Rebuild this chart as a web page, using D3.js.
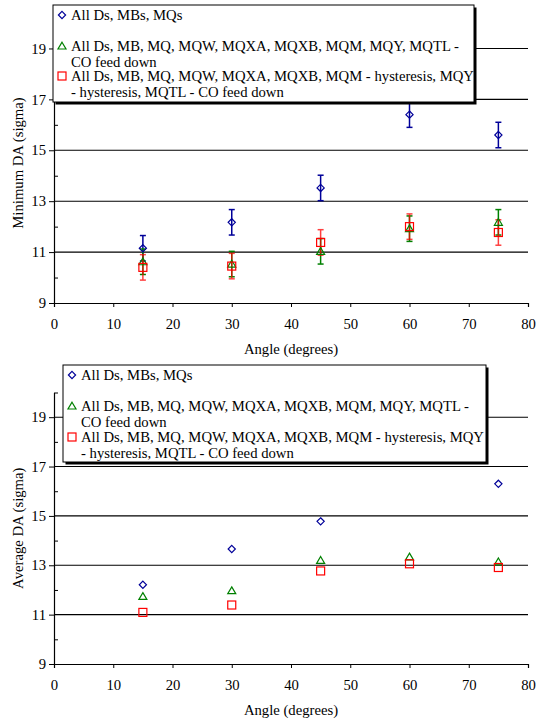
<!DOCTYPE html>
<html>
<head>
<meta charset="utf-8">
<script src="https://cdn.jsdelivr.net/npm/d3@7"></script>
<style>
  body { margin: 0; background: #fff; }
</style>
</head>
<body>
<svg id="chart" width="542" height="723"></svg>
<script>
const angles = [15, 30, 45, 60, 75]

// minimum DA (top panel), with error bars
const minAll = [11.15, 12.17, 13.52, 16.4, 15.6]
const minCO = [10.62, 10.53, 11.03, 11.92, 12.17]
const minHyst = [10.4, 10.45, 11.38, 12.0, 11.77]
const minAllErr = [0.5, 0.5, 0.5, 0.5, 0.5]
const minCOErr = [0.5, 0.5, 0.5, 0.5, 0.5]
const minHystErr = [0.5, 0.5, 0.5, 0.5, 0.5]

// average DA (bottom panel)
const avgAll = [12.21, 13.66, 14.78, 17.64, 16.3]
const avgCO = [11.74, 11.97, 13.2, 13.34, 13.14]
const avgHyst = [11.09, 11.39, 12.77, 13.06, 12.91]

const seriesNames = [
	['All Ds, MBs, MQs'],
	['All Ds, MB, MQ, MQW, MQXA, MQXB, MQM, MQY, MQTL -', 'CO feed down'],
	['All Ds, MB, MQ, MQW, MQXA, MQXB, MQM - hysteresis, MQY', '- hysteresis, MQTL - CO feed down']
]
const xTicks = [0, 10, 20, 30, 40, 50, 60, 70, 80]
const yMajor = [9, 11, 13, 15, 17, 19]
const yMinor = [10, 12, 14, 16, 18, 20]

const colors = ['#000099', '#008000', '#ff0000']
const shapes = ['diamond', 'triangle', 'square']
const fontSize = 14.7
const font = '"Liberation Serif", "Times New Roman", serif'

const svg = d3.select('#chart')

const marker = (g, shape, color) => {
	if (shape === 'diamond') {
		g.append('path').attr('d', 'M0,-3.6 L3.6,0 L0,3.6 L-3.6,0 Z')
	} else if (shape === 'triangle') {
		g.append('path').attr('d', 'M0,-3.8 L4,3 L-4,3 Z')
	} else {
		g.append('rect').attr('x', -4).attr('y', -4).attr('width', 8).attr('height', 8)
	}
	g.selectAll('path, rect')
		.attr('fill', 'none')
		.attr('stroke', color)
		.attr('stroke-width', 1.2)
}

const drawPanel = (opt) => {
	const x = d3.scaleLinear().domain([0, 80]).range([54, 528])
	const y = d3.scaleLinear().domain([9, 20]).range([opt.bottom, opt.top])
	const g = svg.append('g')

	// gridlines
	g.selectAll('line.grid')
		.data(yMajor.slice(1))
		.enter()
		.append('line')
		.attr('x1', x(0)).attr('x2', x(80))
		.attr('y1', d => y(d)).attr('y2', d => y(d))
		.attr('stroke', '#000').attr('stroke-width', 1.1)

	// x axis
	const xAxis = g.append('g')
		.attr('transform', `translate(0, ${y(9)})`)
		.call(d3.axisBottom(x).tickValues(xTicks).tickSize(4).tickPadding(12))

	// y axis, major outside, minor inside
	const yAxis = g.append('g')
		.attr('transform', `translate(${x(0)}, 0)`)
		.call(d3.axisLeft(y).tickValues(yMajor).tickSize(5).tickPadding(3).tickSizeOuter(0))
	g.append('g')
		.attr('transform', `translate(${x(0)}, 0)`)
		.call(d3.axisRight(y).tickValues(yMinor).tickSize(4).tickFormat('').tickSizeOuter(0))
		.select('path.domain').remove()

	svg.selectAll('path.domain').attr('stroke', '#000').attr('stroke-width', 1.2)

	// titles
	g.append('text')
		.attr('x', (x(0) + x(80)) / 2)
		.attr('y', opt.xTitleY)
		.attr('text-anchor', 'middle')
		.text('Angle (degrees)')
	g.append('text')
		.attr('transform', `translate(23, ${(y(9) + y(20)) / 2}) rotate(-90)`)
		.attr('text-anchor', 'middle')
		.text(opt.yTitle)

	// error bars first, markers on top
	opt.series.forEach((vals, s) => {
		const errs = opt.errors ? opt.errors[s] : null
		if (!errs) return
		const eb = g.append('g').attr('stroke', colors[s]).attr('stroke-width', 1.5).attr('opacity', s === 2 ? 0.75 : 1)
		vals.forEach((v, i) => {
			const cx = x(angles[i])
			eb.append('line').attr('x1', cx).attr('x2', cx).attr('y1', y(v - errs[i])).attr('y2', y(v + errs[i]))
			;[v - errs[i], v + errs[i]].forEach(e => {
				eb.append('line').attr('x1', cx - 3).attr('x2', cx + 3).attr('y1', y(e)).attr('y2', y(e))
			})
		})
	})
	opt.series.forEach((vals, s) => {
		vals.forEach((v, i) => {
			const m = g.append('g').attr('transform', `translate(${x(angles[i])}, ${y(v)})`)
			marker(m, shapes[s], colors[s])
		})
	})

	// legend
	const L = opt.legend
	const lg = svg.append('g')
	lg.append('rect')
		.attr('x', L.x + 2.5).attr('y', L.y + 2.5).attr('width', L.w).attr('height', L.h)
		.attr('fill', '#000')
	lg.append('rect')
		.attr('x', L.x).attr('y', L.y).attr('width', L.w).attr('height', L.h)
		.attr('fill', '#fff').attr('stroke', '#000').attr('stroke-width', 1)
	seriesNames.forEach((lines, s) => {
		const ly = L.rows[s]
		const m = lg.append('g').attr('transform', `translate(${L.x + 9}, ${ly})`)
		marker(m, shapes[s], colors[s])
		const t = lg.append('text')
			.attr('x', L.x + 18)
			.attr('y', ly + 5)
		lines.forEach((ln, k) => {
			t.append('tspan').attr('x', L.x + 18).attr('dy', k === 0 ? 0 : 15.5).text(ln)
		})
	})
}

drawPanel({
	top: 23, bottom: 303, xTitleY: 354,
	yTitle: 'Minimum DA (sigma)',
	series: [minAll, minCO, minHyst],
	errors: [minAllErr, minCOErr, minHystErr],
	legend: { x: 53, y: 5, w: 421, h: 97, rows: [15, 46, 76] }
})

drawPanel({
	top: 392.5, bottom: 664, xTitleY: 715,
	yTitle: 'Average DA (sigma)',
	series: [avgAll, avgCO, avgHyst],
	errors: null,
	legend: { x: 63, y: 365, w: 423, h: 97, rows: [375, 406, 437] }
})

// same serif face everywhere, including the axis labels d3 makes
svg.selectAll('text')
	.style('font-family', font)
	.style('font-size', fontSize + 'px')
	.style('fill', '#000')
</script>
</body>
</html>
